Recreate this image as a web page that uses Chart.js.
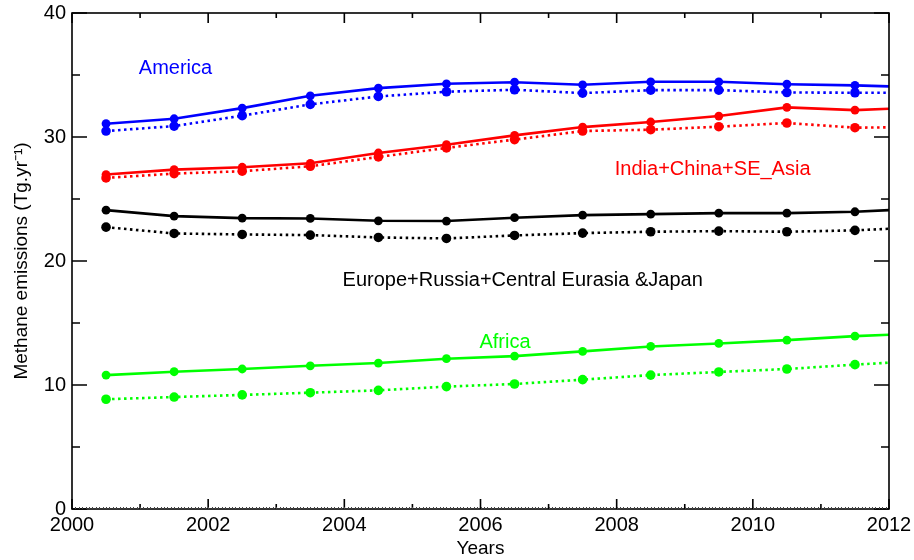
<!DOCTYPE html>
<html>
<head>
<meta charset="utf-8">
<script src="https://cdn.jsdelivr.net/npm/chart.js@4/dist/chart.umd.min.js"></script>
<style>
  html, body { margin: 0; padding: 0; background: #ffffff; }
  #wrap { width: 914px; height: 560px; position: relative; }
</style>
</head>
<body>
<div id="wrap"><canvas id="c" width="914" height="560"></canvas></div>
<script>
// Sample years (mid-year values; the last entry is the series value at the right edge)
const years = [2000.5, 2001.5, 2002.5, 2003.5, 2004.5, 2005.5, 2006.5, 2007.5, 2008.5, 2009.5, 2010.5, 2011.5, 2012];

// Methane emissions per region, Tg/yr: estimate A (solid) and estimate B (dotted)
const americaA = [31.07, 31.47, 32.33, 33.32, 33.94, 34.29, 34.42, 34.21, 34.45, 34.45, 34.26, 34.16, 34.08];
const americaB = [30.48, 30.88, 31.72, 32.63, 33.27, 33.65, 33.81, 33.54, 33.78, 33.78, 33.59, 33.57, 33.57];
const asiaA    = [26.97, 27.37, 27.56, 27.88, 28.71, 29.38, 30.13, 30.80, 31.21, 31.69, 32.39, 32.17, 32.28];
const asiaB    = [26.70, 27.05, 27.24, 27.64, 28.39, 29.12, 29.79, 30.48, 30.59, 30.83, 31.13, 30.75, 30.78];
const europeA  = [24.10, 23.62, 23.46, 23.43, 23.24, 23.22, 23.49, 23.70, 23.78, 23.86, 23.86, 23.97, 24.10];
const europeB  = [22.73, 22.22, 22.14, 22.09, 21.90, 21.82, 22.06, 22.25, 22.36, 22.41, 22.36, 22.47, 22.60];
const africaA  = [10.80, 11.07, 11.29, 11.55, 11.77, 12.12, 12.33, 12.71, 13.11, 13.35, 13.62, 13.94, 14.05];
const africaB  = [8.85, 9.03, 9.20, 9.38, 9.57, 9.87, 10.08, 10.43, 10.80, 11.05, 11.29, 11.64, 11.80];

// Axis ranges and tick labels
const xTicks = [2000, 2002, 2004, 2006, 2008, 2010, 2012];
const yTicks = [0, 10, 20, 30, 40];

// Region names written inside the plot
const regionNames = ["America", "India+China+SE_Asia", "Europe+Russia+Central Eurasia &Japan", "Africa"];

const FONT = "'Liberation Sans', Arial, Helvetica, sans-serif";
const BLUE = '#0000ff', RED = '#ff0000', BLACK = '#000000', GREEN = '#00ff00';

function pts(vals) { return years.map((x, i) => ({ x: x, y: vals[i] })); }

function series(label, vals, color, dotted) {
  return {
    label: label,
    data: pts(vals),
    borderColor: color,
    backgroundColor: color,
    borderWidth: 2.6,
    borderDash: dotted ? [2.5, 3.5] : [],
    pointRadius: (ctx) => ctx.dataIndex === years.length - 1 ? 0 : (dotted ? 4.8 : 4.4),
    pointHoverRadius: 0,
    pointBorderWidth: 0,
    pointBackgroundColor: color,
    tension: 0,
    fill: false
  };
}

// Inward ticks on all four sides plus the plot frame
const framePlugin = {
  id: 'frame',
  afterDatasetsDraw(chart) {
    const { ctx, chartArea: a, scales: { x, y } } = chart;
    ctx.save();
    ctx.strokeStyle = '#000';
    ctx.lineWidth = 1.6;
    ctx.strokeRect(a.left, a.top, a.right - a.left, a.bottom - a.top);
    ctx.beginPath();
    for (let yr = 2000; yr <= 2012; yr++) {
      const px = x.getPixelForValue(yr);
      const len = yr % 2 === 0 ? 10 : 5;
      ctx.moveTo(px, a.bottom); ctx.lineTo(px, a.bottom - len);
      ctx.moveTo(px, a.top); ctx.lineTo(px, a.top + len);
    }
    for (let v = 0; v <= 40; v += 5) {
      const py = y.getPixelForValue(v);
      const len = v % 10 === 0 ? 15 : 8;
      ctx.moveTo(a.left, py); ctx.lineTo(a.left + len, py);
      ctx.moveTo(a.right, py); ctx.lineTo(a.right - len, py);
    }
    ctx.stroke();
    // fine minor ticks along the bottom axis
    ctx.beginPath();
    ctx.lineWidth = 1;
    ctx.strokeStyle = '#444';
    for (let k = 1; k < 240; k++) {
      const px = Math.round(x.getPixelForValue(2000 + k * 0.05)) + 0.5;
      ctx.moveTo(px, a.bottom); ctx.lineTo(px, a.bottom - 2);
    }
    ctx.stroke();

    // region labels, anchored in data coordinates
    const labels = [
      { text: regionNames[0], x: 2001.52, y: 35.54, color: BLUE },
      { text: regionNames[1], x: 2009.41, y: 27.39, color: RED },
      { text: regionNames[2], x: 2006.62, y: 18.44, color: BLACK },
      { text: regionNames[3], x: 2006.36, y: 13.44, color: GREEN }
    ];
    ctx.font = '20px ' + FONT;
    ctx.textAlign = 'center';
    ctx.textBaseline = 'middle';
    labels.forEach(l => {
      ctx.fillStyle = l.color;
      ctx.fillText(l.text, x.getPixelForValue(l.x), y.getPixelForValue(l.y));
    });
    ctx.restore();
  }
};

new Chart(document.getElementById('c'), {
  type: 'line',
  data: {
    datasets: [
      series('America', americaA, BLUE, false),
      series('America', americaB, BLUE, true),
      series('India+China+SE_Asia', asiaA, RED, false),
      series('India+China+SE_Asia', asiaB, RED, true),
      series('Europe+Russia+Central Eurasia &Japan', europeA, BLACK, false),
      series('Europe+Russia+Central Eurasia &Japan', europeB, BLACK, true),
      series('Africa', africaA, GREEN, false),
      series('Africa', africaB, GREEN, true)
    ]
  },
  options: {
    responsive: false,
    animation: false,
    events: [],
    layout: { padding: { top: 13, right: 25, left: 0, bottom: 0 } },
    plugins: { legend: { display: false }, tooltip: { enabled: false } },
    scales: {
      x: {
        type: 'linear',
        min: 2000, max: 2012,
        afterBuildTicks: (s) => { s.ticks = xTicks.map(v => ({ value: v })); },
        afterFit: (s) => { s.height = 51; s.paddingLeft = 0; s.paddingRight = 0; },
        grid: { display: false, drawTicks: false },
        border: { display: false },
        ticks: {
          padding: 4,
          color: '#000',
          font: { family: FONT, size: 20 },
          maxRotation: 0,
          callback: (v) => String(v)
        },
        title: {
          display: true,
          text: 'Years',
          color: '#000',
          font: { family: FONT, size: 19 },
          padding: { top: 0, bottom: 0 }
        }
      },
      y: {
        min: 0, max: 40,
        afterBuildTicks: (s) => { s.ticks = yTicks.map(v => ({ value: v })); },
        afterFit: (s) => { s.width = 72; s.paddingTop = 0; s.paddingBottom = 0; },
        grid: { display: false, drawTicks: false },
        border: { display: false },
        ticks: {
          padding: 6,
          color: '#000',
          font: { family: FONT, size: 20 },
          callback: (v) => String(v)
        },
        title: {
          display: true,
          text: 'Methane emissions (Tg.yr\u207B\u00B9)',
          color: '#000',
          font: { family: FONT, size: 19 },
          padding: { top: 10, bottom: 0 }
        }
      }
    }
  },
  plugins: [framePlugin]
});
</script>
</body>
</html>
